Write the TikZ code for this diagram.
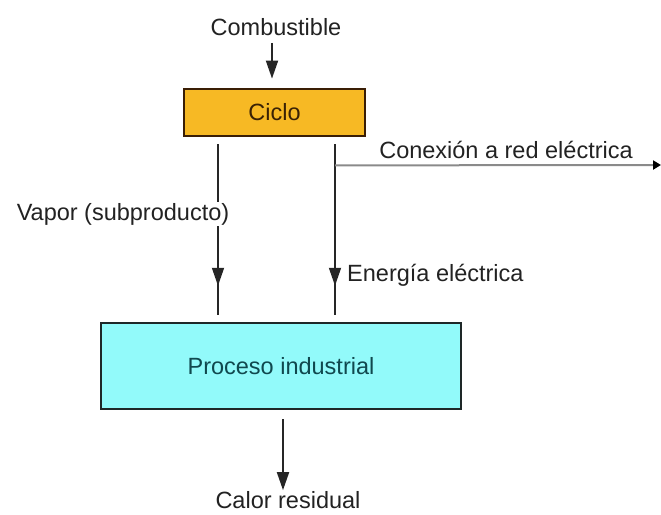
\documentclass[tikz,border=0pt]{standalone}
\usepackage{fontspec}
\setmainfont{Liberation Sans}
\usetikzlibrary{arrows.meta,decorations.markings,calc}
\definecolor{ciclofill}{HTML}{F7B924}
\definecolor{cicloborder}{HTML}{3A1E05}
\definecolor{ciclotext}{HTML}{3A2205}
\definecolor{procfill}{HTML}{92FAFA}
\definecolor{procborder}{HTML}{1E2828}
\definecolor{proctext}{HTML}{10484E}
\definecolor{txt}{HTML}{222222}
\definecolor{gridline}{HTML}{8A8A8A}
\begin{document}
\begin{tikzpicture}[x=1pt,y=-1pt,
  every node/.style={font=\fontsize{23.5}{28}\selectfont, inner sep=0pt, text=txt},
  ciclobox/.style={draw=cicloborder, fill=ciclofill, line width=2.8pt,
    minimum width=181pt, minimum height=47pt, text=ciclotext},
  procbox/.style={draw=procborder, fill=procfill, line width=2.6pt,
    minimum width=360pt, minimum height=86pt, text=proctext},
  flow/.style={line width=1.8pt, draw=black!85},
  tip/.style={-{Triangle[width=12pt,length=18pt]}},
  midtip/.style={decoration={markings,
    mark=at position #1 with {\arrow{Triangle[width=12pt,length=18pt]}}},
    postaction={decorate}},
  gridarrow/.style={line width=2pt, draw=gridline, -{Triangle[width=9pt,length=8pt,fill=black,color=black]}}
]
\path[use as bounding box] (0,0) rectangle (661,514);

\node (comb) at (276,27) {Combustible};
\node[ciclobox] (ciclo) at (274.5,112.5) {Ciclo};
\node[procbox] (proc) at (281,366) {Proceso industrial};
\node (calor) at (288,500) {Calor residual};

\coordinate (vx) at (218,0);
\coordinate (ex) at (335,0);
\coordinate (gridend) at (661,165);
\coordinate (cx) at (283,0);

% Combustible -> Ciclo
\draw[flow,tip] ($(comb.south -| 272,0)+(0,7)$) -- ($(ciclo.north -| 272,0)+(0,-9)$);

% Vapor line
\draw[flow,midtip=0.83] ($(ciclo.south -| vx)+(0,7)$) -- ($(proc.north -| vx)+(0,-7)$);
% Electric line
\draw[flow,midtip=0.83] ($(ciclo.south -| ex)+(0,7)$) -- ($(proc.north -| ex)+(0,-7)$);
% grid connection
\draw[gridarrow] ($(ciclo.south -| ex)+(0,28)$) -- (gridend);

% Proceso -> Calor residual
\draw[flow,tip] ($(proc.south -| cx)+(0,9)$) -- ($(calor.north -| cx)+(0,-1)$);

\node[fill=white, inner sep=1pt] (vapor) at (123,214) {Vapor (subproducto)};
\node[anchor=west] (energia) at (347,275) {Energía eléctrica};
\node (red) at (506,150) {Conexión a red eléctrica};
\end{tikzpicture}
\end{document}
